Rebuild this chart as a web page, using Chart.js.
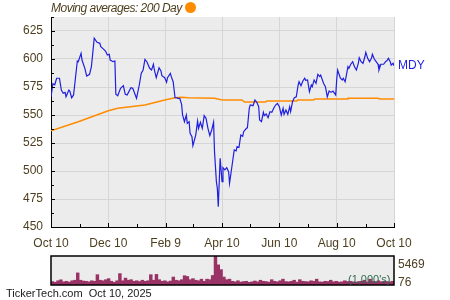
<!DOCTYPE html>
<html><head><meta charset="utf-8">
<script src="https://cdn.jsdelivr.net/npm/chart.js@4.4.1/dist/chart.umd.min.js"></script>
<style>
html,body{margin:0;padding:0;background:#fff;width:450px;height:300px;overflow:hidden;font-family:"Liberation Sans",Arial,sans-serif;}
#wrap{position:relative;width:450px;height:300px;}
#main{position:absolute;left:0;top:0;}
#vol{position:absolute;left:0;top:250px;}
.t{position:absolute;white-space:pre;line-height:1;font-family:"Liberation Sans",Arial,sans-serif;}
</style></head><body>
<div id="wrap">
<canvas id="main" width="450" height="250"></canvas>
<canvas id="vol" width="450" height="50"></canvas>
<div class="t" style="left:51px;top:2px;font-size:12px;letter-spacing:-0.5px;font-style:italic;color:#4d3f1f;">Moving averages: 200 Day</div>
<div style="position:absolute;left:185px;top:2px;width:11px;height:11px;border-radius:50%;background:#ff8c00;"></div>
<div class="t" id="vmax" style="left:398px;top:258px;font-size:12px;color:#4d3f1f;"></div>
<div class="t" id="vmin" style="left:398px;top:276px;font-size:12px;color:#4d3f1f;"></div>
<div class="t" id="vunit" style="left:348px;top:274px;font-size:11px;color:#2f6a50;"></div>
<div class="t" style="left:6px;top:288px;font-size:11px;color:#1a1a1a;">TickerTech.com  Oct 10, 2025</div>
</div>
<script>
// ---- data ----
const ticker = "MDY";
const xTickDays = [0,61,122,182,243,304,365];
const xTickLabels = ["Oct 10","Dec 10","Feb 9","Apr 10","Jun 10","Aug 10","Oct 10"];
const xMinorDays = [31,92,151,212,273,335];
const yTicks = [450,475,500,525,550,575,600,625];
const yMinorTicks = [462.5,487.5,512.5,537.5,562.5,587.5,612.5,637.5];

const priceDays = [
0,2,4,6,9,11,13,15,16,19,
20,22,24,26,28,29,32,33,36,38,
41,43,46,49,52,53,55,58,60,62,
63,66,68,69,71,74,77,79,81,85,
87,89,91,94,96,98,100,102,105,107,
109,110,112,115,117,118,121,123,124,127,
128,130,132,134,135,137,139,140,142,144,
145,147,148,150,151,154,156,157,159,161,
163,165,167,169,171,173,174,176,177,178,
180,182,183,185,187,189,190,192,193,195,
197,198,200,202,204,205,208,209,211,212,
215,217,219,221,222,224,226,227,229,231,
233,235,237,239,241,243,245,247,248,250,
252,254,255,257,259,261,263,264,266,268,
270,271,273,275,277,278,280,282,284,286,
287,290,292,294,296,298,300,303,304,305,
308,310,311,313,316,317,319,321,323,325,
327,328,330,332,334,335,337,339,341,342,
344,346,348,349,351,354,356,358,359,361,
362,364,365];
const prices = [
566,578,577,582.8,582.8,572.3,569.4,570.2,566.3,572.3,
571.4,565.4,567.9,582.8,598.2,597.6,605.1,599.1,591.7,584.8,
586.3,593.1,618.5,614.9,614,611,609.5,607.1,603.6,604.2,
599.1,597.6,598.2,568.5,567.2,573.8,576.2,568.5,567.9,574.4,
573.8,569.4,564.9,577,587.2,590.2,599.7,597.6,591.7,590.2,
595.3,590.2,583.3,592.2,589.3,585.1,583.3,579.2,583.3,587.2,
584.3,579.7,565.4,565.4,564.9,564.9,559.5,550,544,550,
542.6,544,533.7,530.6,522.6,532.1,544.6,538.1,543.5,538.1,
549.4,547,538.1,531.5,536.6,543.5,517.2,490.4,484.5,468,
511.3,490.4,503,501,503,499.4,489,500.9,506.9,518.8,
518,521.7,521,532.1,531,535.1,538.1,538.6,556,558.9,
558.3,563.4,561.4,557.4,545.5,544,552.4,549.4,550.9,547.6,
552.9,552.4,556,558.9,560.4,557.4,550,556,550.6,554.5,
550.6,557.4,553,561.9,565.4,566.3,576.8,579.7,576.2,580.4,
582.8,581,581.3,570.8,576.8,575.3,581.3,578.3,586.3,584.3,
585.6,578.3,575.3,566.3,571.4,570.2,571.4,567.9,581.3,590.2,
582.8,581.3,582.8,579.7,593.1,591.7,595.3,597.6,593.1,590.2,
596.1,601.2,597.6,596.1,602,606,600.6,597.6,600.6,604.2,
600,597.6,595.3,590.2,595.3,595.3,597.6,599,600.6,597.6,
594.6,596.1,594];

const maDays = [0,29,61,71,100,121,132,139,146,174,181,185,203,206,228,230,261,263,279,281,315,316,348,350,365];
const maValues = [536,544,553.8,556,559,563.4,565.4,565.8,565.4,564.9,563.7,563.4,563.4,561.6,561.6,562.5,562.5,563.4,563.4,564.3,564.3,564.9,564.9,564.3,564.3];

const volume = [
650,500,800,975,600,700,550,800,900,2280,
900,750,700,600,800,700,1950,900,800,1000,
1200,700,500,800,2150,800,1300,900,1000,700,
800,650,900,700,800,1950,900,2000,1000,700,
800,600,750,1500,900,800,1000,1750,1600,1000,
1200,900,800,1100,700,1100,1000,1800,5469,3800,
2900,1500,1000,1100,700,600,800,550,650,700,
500,600,750,600,900,700,650,550,1000,700,
600,800,1100,650,600,700,900,550,1000,700,
650,600,800,700,1100,600,550,700,650,900,
600,700,550,600,800,650,700,600,550,650,
700,900,600,1100,700,650,800,600,700,650,
600,700];
const volMaxLabel = "5469";
const volMinLabel = "76";
const volUnitLabel = "(1,000's)";

document.getElementById('vmax').textContent = volMaxLabel;
document.getElementById('vmin').textContent = volMinLabel;
document.getElementById('vunit').textContent = volUnitLabel;

const FONT = '"Liberation Sans", Arial, sans-serif';
const TXT = '#4d3f1f';

const bgPlugin = {
  id:'bg',
  beforeDraw(chart){
    const a = chart.chartArea, ctx = chart.ctx;
    ctx.save(); ctx.fillStyle = '#ececec';
    ctx.fillRect(a.left, a.top, a.right-a.left, a.bottom-a.top);
    ctx.restore();
  }
};

const markPlugin = {
  id:'marks',
  afterDraw(chart){
    const {ctx, chartArea:a} = chart;
    const x = chart.scales.x, y = chart.scales.y;
    ctx.save();
    ctx.strokeStyle = '#000'; ctx.lineWidth = 1;
    ctx.beginPath();
    yTicks.forEach(v => { if (v === 450) return; const py = Math.round(y.getPixelForValue(v)) + 0.5; ctx.moveTo(a.left, py); ctx.lineTo(a.left + 4, py); });
    yMinorTicks.forEach(v => { const py = Math.round(y.getPixelForValue(v)) + 0.5; ctx.moveTo(a.left, py); ctx.lineTo(a.left + 3, py); });
    xTickDays.forEach(v => { if (v === 0) return; const px = Math.round(x.getPixelForValue(v)) + 0.5; ctx.moveTo(px, a.bottom); ctx.lineTo(px, a.bottom - 4); });
    xMinorDays.forEach(v => { const px = Math.round(x.getPixelForValue(v)) + 0.5; ctx.moveTo(px, a.bottom); ctx.lineTo(px, a.bottom - 3); });
    ctx.stroke();
    const lx = x.getPixelForValue(priceDays[priceDays.length-1]) + 4;
    const ly = y.getPixelForValue(prices[prices.length-1]);
    ctx.fillStyle = '#2020e0';
    ctx.font = '12px ' + FONT;
    ctx.textBaseline = 'middle';
    ctx.textAlign = 'left';
    ctx.fillText(ticker, lx, ly);
    ctx.restore();
  }
};

new Chart(document.getElementById('main'), {
  type:'line',
  data:{datasets:[
    {data: priceDays.map((d,i)=>({x:d,y:prices[i]})), borderColor:'#1f1fe0', borderWidth:1.2, pointRadius:0, tension:0, fill:false},
    {data: maDays.map((d,i)=>({x:d,y:maValues[i]})), borderColor:'#ff8c00', borderWidth:1.5, pointRadius:0, tension:0, fill:false}
  ]},
  options:{
    responsive:false, animation:false, devicePixelRatio:1,
    layout:{padding:{left:0,right:56,top:17,bottom:0}},
    plugins:{legend:{display:false}, tooltip:{enabled:false}},
    scales:{
      x:{type:'linear', min:0, max:365,
        afterBuildTicks(s){ s.ticks = xTickDays.map(v=>({value:v})); },
        afterFit(s){ s.height = 23; },
        ticks:{autoSkip:false, maxRotation:0, padding:9, color:TXT, font:{family:FONT,size:12}, callback:(v,i)=>xTickLabels[i]},
        grid:{color:'#d6d6d6', lineWidth:1, drawTicks:false},
        border:{color:'#000', width:1}
      },
      y:{min:450, max:637.5,
        afterBuildTicks(s){ s.ticks = yTicks.map(v=>({value:v})); },
        afterFit(s){ s.width = 51; },
        ticks:{padding:8, color:TXT, font:{family:FONT,size:12}, callback:(v)=>String(v)},
        grid:{color:'#d6d6d6', lineWidth:1, drawTicks:false},
        border:{color:'#000', width:1}
      }
    }
  },
  plugins:[bgPlugin, markPlugin]
});

const boxPlugin = {
  id:'box',
  afterDraw(chart){
    const a = chart.chartArea, ctx = chart.ctx;
    ctx.save(); ctx.strokeStyle = '#000'; ctx.lineWidth = 1.5;
    ctx.strokeRect(a.left, a.top, a.right-a.left, a.bottom-a.top);
    ctx.restore();
  }
};

new Chart(document.getElementById('vol'), {
  type:'bar',
  data:{labels: volume.map((_,i)=>i), datasets:[{data:volume, backgroundColor:'#993366', borderWidth:0, barPercentage:1, categoryPercentage:1}]},
  options:{
    responsive:false, animation:false, devicePixelRatio:1,
    layout:{padding:{left:51,right:56,top:6,bottom:15}},
    plugins:{legend:{display:false}, tooltip:{enabled:false}},
    scales:{x:{display:false}, y:{display:false, min:0, max:5469}}
  },
  plugins:[bgPlugin, boxPlugin]
});
</script>
</body></html>
